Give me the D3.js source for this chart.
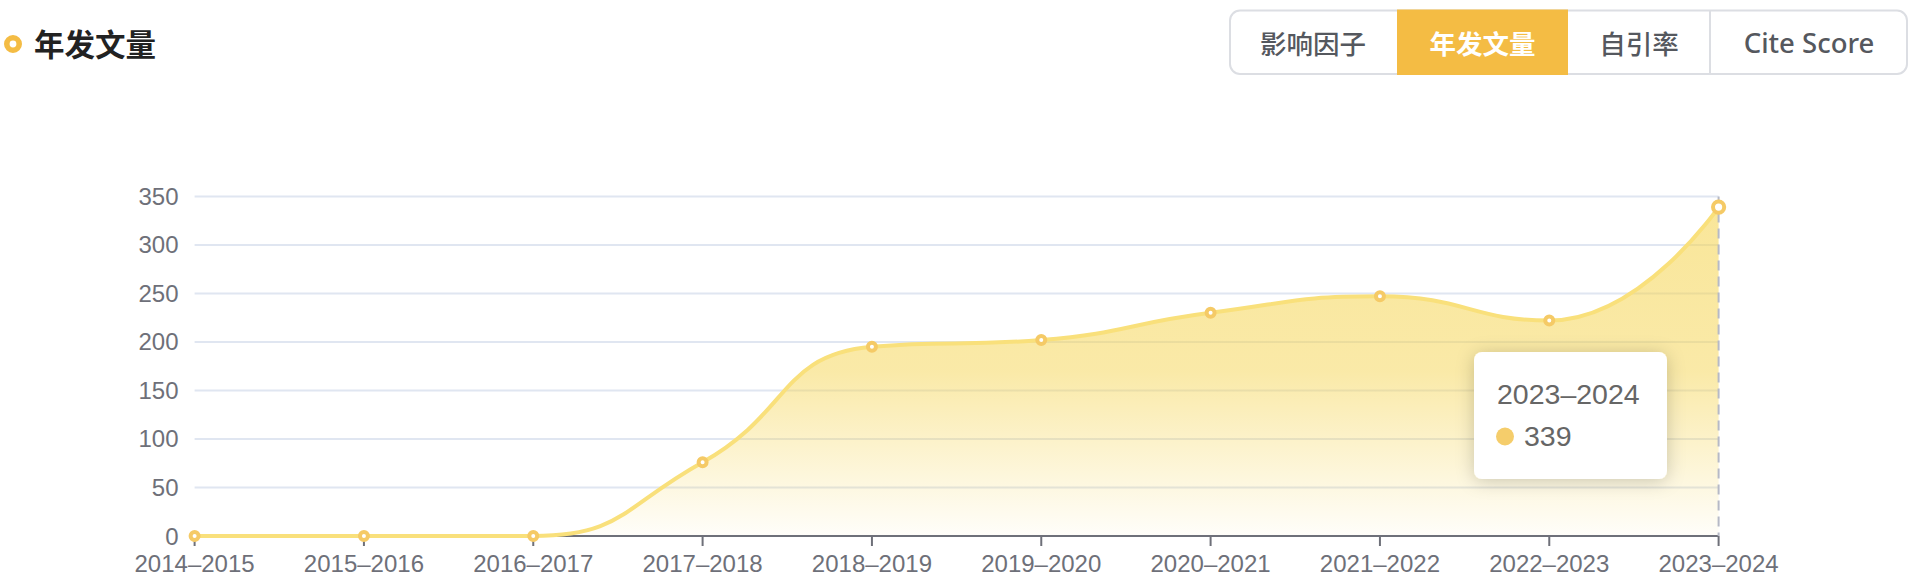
<!DOCTYPE html>
<html>
<head>
<meta charset="utf-8">
<script src="https://cdn.jsdelivr.net/npm/d3@7/dist/d3.min.js"></script>
<style>
  html, body { margin: 0; padding: 0; background: #fff; }
  svg { display: block; }
</style>
</head>
<body>
<svg id="chart" width="1918" height="578"></svg>
<script>
// ---- data ----
const categories = ["2014–2015","2015–2016","2016–2017","2017–2018","2018–2019","2019–2020","2020–2021","2021–2022","2022–2023","2023–2024"];
const values = [0, 0, 0, 76, 195, 202, 230, 247, 222, 339];
const yTicks = [0, 50, 100, 150, 200, 250, 300, 350];
const title = "年发文量";
const tabs = ["影响因子", "年发文量", "自引率", "Cite Score"];
const activeTab = "年发文量";
const tooltipIndex = 9;

// ---- drawing ----
const svg = d3.select("#chart");
const FONT = "'Liberation Sans', Arial, sans-serif";
const CJK = "'Noto Sans CJK SC', 'Noto Sans', sans-serif";

const x = d3.scalePoint().domain(categories).range([194.6, 1718.6]).padding(0);
const y = d3.scaleLinear().domain([0, 350]).range([536, 196.4]);

// title
svg.append("circle").attr("cx", 13).attr("cy", 44).attr("r", 6.2)
  .attr("fill", "#fff").attr("stroke", "#F4BC44").attr("stroke-width", 5.6);
svg.append("text").attr("x", 34).attr("y", 42.5).attr("dominant-baseline", "central")
  .attr("font-family", CJK).attr("font-weight", 700).attr("font-size", 30.5)
  .attr("fill", "#222").text(title);

// tabs
const tabEdges = [1229, 1397, 1568, 1710, 1908];
const tg = svg.append("g");
tg.append("rect").attr("x", 1230).attr("y", 10.5).attr("width", 677).attr("height", 63.5)
  .attr("rx", 10).attr("fill", "#fff").attr("stroke", "#DCDEE3").attr("stroke-width", 2);
tabs.forEach((t, i) => {
  const x0 = tabEdges[i], x1 = tabEdges[i + 1];
  const active = t === activeTab;
  if (active) {
    tg.append("rect").attr("x", x0).attr("y", 9.5).attr("width", x1 - x0).attr("height", 65.5)
      .attr("fill", "#F4BC44");
  } else if (i > 0 && tabs[i - 1] !== activeTab) {
    tg.append("line").attr("x1", x0).attr("x2", x0).attr("y1", 10.5).attr("y2", 74)
      .attr("stroke", "#DCDEE3").attr("stroke-width", 2);
  }
  const latin = /[A-Za-z]/.test(t);
  tg.append("text").attr("x", (x0 + x1) / 2).attr("y", 42).attr("text-anchor", "middle")
    .attr("dominant-baseline", "central")
    .attr("font-family", latin ? "'Noto Sans', " + FONT : CJK)
    .attr("font-weight", active ? 700 : 500).attr("font-size", latin ? 27.5 : 26.5)
    .attr("fill", active ? "#fff" : "#55585E").text(t);
});

// grid lines
svg.append("g").selectAll("line").data(yTicks.filter(d => d > 0)).join("line")
  .attr("x1", x.range()[0]).attr("x2", x.range()[1])
  .attr("y1", d => y(d)).attr("y2", d => y(d))
  .attr("stroke", "#E0E6F1").attr("stroke-width", 2);

// y labels
svg.append("g").selectAll("text").data(yTicks).join("text")
  .attr("x", 178.5).attr("y", d => y(d)).attr("text-anchor", "end")
  .attr("dominant-baseline", "central")
  .attr("font-family", FONT).attr("font-size", 24).attr("fill", "#6E7079")
  .text(d => d);

// gradient
const defs = svg.append("defs");
const grad = defs.append("linearGradient").attr("id", "areaGrad")
  .attr("x1", 0).attr("y1", 0).attr("x2", 0).attr("y2", 1);
grad.append("stop").attr("offset", 0).attr("stop-color", "rgb(245,212,80)").attr("stop-opacity", 0.58);
grad.append("stop").attr("offset", 0.5).attr("stop-color", "rgb(245,212,80)").attr("stop-opacity", 0.5);
grad.append("stop").attr("offset", 1).attr("stop-color", "rgb(245,212,80)").attr("stop-opacity", 0.03);

const shadow = defs.append("filter").attr("id", "shadow")
  .attr("x", "-30%").attr("y", "-30%").attr("width", "160%").attr("height", "160%");
shadow.append("feDropShadow").attr("dx", 0).attr("dy", 2).attr("stdDeviation", 9)
  .attr("flood-color", "#000").attr("flood-opacity", 0.2);

// echarts-like smoothing
const pts = categories.map((c, i) => [x(c), y(values[i])]);
function smoothPath(points, smooth, ctx) {
  let prevX, prevY, cpx0, cpy0, cpx1, cpy1;
  const n = points.length;
  for (let i = 0; i < n; i++) {
    const [px, py] = points[i];
    if (i === 0) { ctx.moveTo(px, py); cpx0 = px; cpy0 = py; }
    else {
      let nx0, ny0;
      if (i + 1 >= n) { cpx1 = px; cpy1 = py; }
      else {
        const [nextX, nextY] = points[i + 1];
        let vx = nextX - prevX, vy = nextY - prevY;
        const lenPrev = Math.hypot(px - prevX, py - prevY);
        const lenNext = Math.hypot(nextX - px, nextY - py);
        const ratio = lenNext / (lenNext + lenPrev);
        nx0 = px + vx * smooth * ratio;
        ny0 = py + vy * smooth * ratio;
        nx0 = Math.max(Math.min(nx0, Math.max(nextX, px)), Math.min(nextX, px));
        ny0 = Math.max(Math.min(ny0, Math.max(nextY, py)), Math.min(nextY, py));
        vx = nx0 - px; vy = ny0 - py;
        cpx1 = px - vx * lenPrev / lenNext;
        cpy1 = py - vy * lenPrev / lenNext;
        cpx1 = Math.max(Math.min(cpx1, Math.max(prevX, px)), Math.min(prevX, px));
        cpy1 = Math.max(Math.min(cpy1, Math.max(prevY, py)), Math.min(prevY, py));
        vx = px - cpx1; vy = py - cpy1;
        nx0 = px + vx * lenNext / lenPrev;
        ny0 = py + vy * lenNext / lenPrev;
      }
      ctx.bezierCurveTo(cpx0, cpy0, cpx1, cpy1, px, py);
      cpx0 = nx0; cpy0 = ny0;
    }
    prevX = px; prevY = py;
  }
  return ctx;
}
const lineP = smoothPath(pts, 0.5, d3.path());
const areaP = smoothPath(pts, 0.5, d3.path());
areaP.lineTo(pts[pts.length - 1][0], y(0));
areaP.lineTo(pts[0][0], y(0));
areaP.closePath();

svg.append("path").attr("d", areaP.toString()).attr("fill", "url(#areaGrad)");

// x axis
const axisY = y(0);
svg.append("line").attr("x1", x.range()[0]).attr("x2", x.range()[1])
  .attr("y1", axisY).attr("y2", axisY).attr("stroke", "#6E7079").attr("stroke-width", 2);
svg.append("g").selectAll("line").data(categories).join("line")
  .attr("x1", d => x(d)).attr("x2", d => x(d)).attr("y1", axisY).attr("y2", axisY + 10)
  .attr("stroke", "#6E7079").attr("stroke-width", 2);
svg.append("g").selectAll("text").data(categories).join("text")
  .attr("x", d => x(d)).attr("y", 572).attr("text-anchor", "middle")
  .attr("font-family", FONT).attr("font-size", 24).attr("fill", "#6E7079").text(d => d);

// axis pointer
svg.append("line").attr("x1", x(categories[tooltipIndex])).attr("x2", x(categories[tooltipIndex]))
  .attr("y1", y(350)).attr("y2", axisY)
  .attr("stroke", "#B6B9C6").attr("stroke-width", 2).attr("stroke-dasharray", "10,6");

// line
svg.append("path").attr("d", lineP.toString()).attr("fill", "none")
  .attr("stroke", "#F9E07B").attr("stroke-width", 4).attr("stroke-linejoin", "round");

// symbols
svg.append("g").selectAll("circle").data(values).join("circle")
  .attr("cx", (d, i) => x(categories[i])).attr("cy", d => y(d))
  .attr("r", (d, i) => i === tooltipIndex ? 5.6 : 4)
  .attr("fill", "#fff").attr("stroke", "#F5CA66")
  .attr("stroke-width", 4);

// tooltip
const tt = svg.append("g");
tt.append("rect").attr("x", 1474).attr("y", 352).attr("width", 193).attr("height", 127)
  .attr("rx", 8).attr("fill", "#fff").attr("filter", "url(#shadow)");
tt.append("text").attr("x", 1497).attr("y", 404).attr("font-family", FONT).attr("font-size", 28.5)
  .attr("fill", "#666").text(categories[tooltipIndex]);
tt.append("circle").attr("cx", 1505).attr("cy", 436.5).attr("r", 9).attr("fill", "#F5CD6B");
tt.append("text").attr("x", 1524).attr("y", 446).attr("font-family", FONT).attr("font-size", 28.5)
  .attr("fill", "#666").text(values[tooltipIndex]);
</script>
</body>
</html>
